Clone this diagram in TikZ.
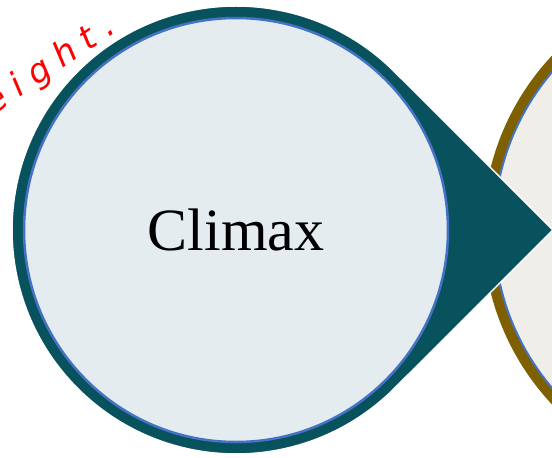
\documentclass[tikz,border=0pt]{standalone}
\usepackage{fontspec}
\setmainfont{Liberation Serif}
\newfontfamily\handfont[LetterSpace=30]{DejaVu Sans}
\definecolor{tealdark}{HTML}{08525E}
\definecolor{blueedge}{HTML}{4472C4}
\definecolor{lightfill}{HTML}{E4ECEF}
\definecolor{brownring}{HTML}{7F6000}
\definecolor{beigefill}{HTML}{F0EEE8}

\begin{document}
\begin{tikzpicture}[x=1pt,y=1pt]
\tikzset{inner/.style={circle,draw=blueedge,line width=2.5pt,fill=lightfill,inner sep=0pt}}
\clip (0,0) rectangle (552,-458);
% next step, cut off at the right
\coordinate (nc) at (738,-230);
\fill[brownring] (nc) circle (255);
\draw[blueedge,fill=beigefill,line width=2pt] (nc) circle (244);
% pointer round the step
\coordinate (c) at (236,-230);
\coordinate (tip) at (553,-230);
\fill[tealdark,draw=white,line width=1.5pt] (tip) -- (394.4,-71.6) arc (45:315:224) -- cycle;
\node[inner,minimum size=424pt,font=\fontsize{60}{62}\selectfont] (climax) at (c) {Climax};
% handwritten note
\node[red,rotate=34,anchor=base west,font=\handfont\itshape\fontsize{34}{34}\selectfont] (note) at (-9,-117) {eight.};
\end{tikzpicture}
\end{document}
